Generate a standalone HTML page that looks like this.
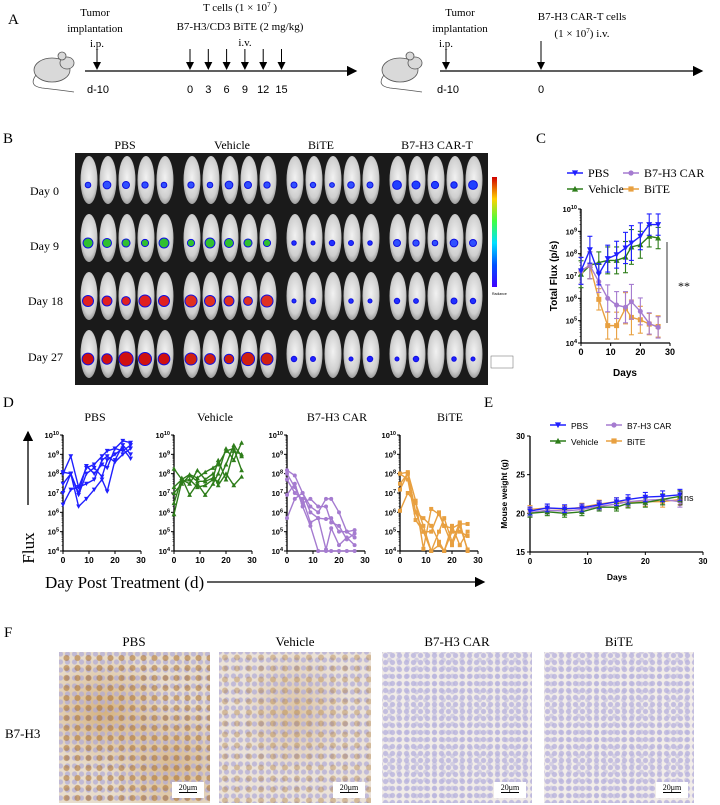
<!DOCTYPE html>
<html><head><meta charset="utf-8">
<style>
body{margin:0;background:#fff;}
svg{display:block;font-family:"Liberation Serif",serif;}
.ar{font-family:"Liberation Sans",sans-serif;font-weight:bold;}
.hist{position:absolute;}
</style></head>
<body>
<div style="position:relative;width:720px;height:805px;overflow:hidden">
<svg id="fig" width="720" height="805" viewBox="0 0 720 805">
<defs>
<marker id="ah" markerWidth="8" markerHeight="8" refX="7" refY="4" orient="auto"><path d="M0,0 L8,4 L0,8 z" fill="#000"/></marker>
<radialGradient id="mg" cx="50%" cy="45%" r="60%"><stop offset="0" stop-color="#f2f2f2"/><stop offset="0.7" stop-color="#cfcfcf"/><stop offset="1" stop-color="#8a8a8a"/></radialGradient>
</defs>
<!-- Panel A -->
<g>
<text x="8" y="24" font-size="15">A</text>
<g fill="#d9d9d9" stroke="#555" stroke-width="0.8">
<ellipse cx="52" cy="70" rx="18" ry="12"/><ellipse cx="67" cy="63" rx="7" ry="6"/><circle cx="62" cy="56" r="4"/>
<path d="M36,75 Q28,86 42,88 Q60,90 74,92" fill="none"/></g>
<g fill="#d9d9d9" stroke="#555" stroke-width="0.8">
<ellipse cx="400" cy="70" rx="18" ry="12"/><ellipse cx="415" cy="63" rx="7" ry="6"/><circle cx="410" cy="56" r="4"/>
<path d="M384,75 Q376,86 390,88 Q408,90 422,92" fill="none"/></g>
<line x1="85" y1="71" x2="356" y2="71" stroke="#000" stroke-width="1.3" marker-end="url(#ah)"/>
<text x="95" y="16" font-size="11" text-anchor="middle">Tumor</text>
<text x="95" y="32" font-size="11" text-anchor="middle">implantation</text>
<text x="97" y="47" font-size="11" text-anchor="middle">i.p.</text>
<line x1="97" y1="49" x2="97" y2="69" stroke="#000" marker-end="url(#ah)"/>
<text x="98" y="93" font-size="11" text-anchor="middle" font-family="Liberation Sans">d-10</text>
<text x="240" y="11" font-size="11" text-anchor="middle">T cells (1 × 10<tspan dy="-4" font-size="7">7</tspan><tspan dy="4"> )</tspan></text>
<text x="240" y="30" font-size="11" text-anchor="middle">B7-H3/CD3 BiTE (2 mg/kg)</text>
<text x="245" y="46" font-size="11" text-anchor="middle">i.v.</text>
<g id="dosearrows"></g>
<line x1="440" y1="71" x2="702" y2="71" stroke="#000" stroke-width="1.3" marker-end="url(#ah)"/>
<text x="460" y="16" font-size="11" text-anchor="middle">Tumor</text>
<text x="460" y="32" font-size="11" text-anchor="middle">implantation</text>
<text x="446" y="47" font-size="11" text-anchor="middle">i.p.</text>
<line x1="446" y1="49" x2="446" y2="69" stroke="#000" marker-end="url(#ah)"/>
<text x="448" y="93" font-size="11" text-anchor="middle" font-family="Liberation Sans">d-10</text>
<text x="582" y="20" font-size="11" text-anchor="middle">B7-H3 CAR-T cells</text>
<text x="582" y="37" font-size="11" text-anchor="middle">(1 × 10<tspan dy="-4" font-size="7">7</tspan><tspan dy="4">) i.v.</tspan></text>
<line x1="541" y1="41" x2="541" y2="69" stroke="#000" marker-end="url(#ah)"/>
<text x="541" y="93" font-size="11" text-anchor="middle" font-family="Liberation Sans">0</text>
</g>
<!-- Panel B -->
<g>
<text x="3" y="143" font-size="15">B</text>
<text x="125" y="149" font-size="12" text-anchor="middle">PBS</text>
<text x="232" y="149" font-size="12" text-anchor="middle">Vehicle</text>
<text x="321" y="149" font-size="12" text-anchor="middle">BiTE</text>
<text x="437" y="149" font-size="12" text-anchor="middle">B7-H3 CAR-T</text>
<rect x="75" y="153" width="413" height="232" fill="#1a1a1a"/>
<g id="mice"></g>
<text x="30" y="195" font-size="12">Day 0</text>
<text x="30" y="250" font-size="12">Day 9</text>
<text x="28" y="305" font-size="12">Day 18</text>
<text x="28" y="361" font-size="12">Day 27</text>
<defs><linearGradient id="cb" x1="0" y1="1" x2="0" y2="0">
<stop offset="0" stop-color="#4000ff"/><stop offset="0.2" stop-color="#0050ff"/><stop offset="0.4" stop-color="#00e0ff"/><stop offset="0.6" stop-color="#40ff40"/><stop offset="0.8" stop-color="#ffd000"/><stop offset="1" stop-color="#d00000"/></linearGradient></defs>
<rect x="492" y="177" width="5" height="110" fill="url(#cb)"/>
<text x="492" y="295" font-size="3.5" font-family="Liberation Sans">Radiance</text>
<rect x="491" y="356" width="22" height="12" fill="none" stroke="#666" stroke-width="0.5"/>
</g>
<!-- Panel C -->
<g id="panelC">
<text x="536" y="143" font-size="15">C</text>
</g>
<!-- Panel D -->
<g id="panelD">
<text x="3" y="407" font-size="15">D</text>
<line x1="28" y1="505" x2="28" y2="432" stroke="#000" stroke-width="1.3" marker-end="url(#ah)"/>
<text transform="translate(34,548) rotate(-90)" font-size="17" text-anchor="middle">Flux</text>
<text x="45" y="588" font-size="17">Day Post Treatment (d)</text>
<line x1="207" y1="582" x2="484" y2="582" stroke="#000" stroke-width="1.3" marker-end="url(#ah)"/>
</g>
<!-- Panel E -->
<g id="panelE">
<text x="484" y="407" font-size="15">E</text>
</g>
<!-- Panel F -->
<g>
<text x="4" y="637" font-size="15">F</text>
<text x="134" y="646" font-size="13" text-anchor="middle">PBS</text>
<text x="295" y="646" font-size="13" text-anchor="middle">Vehicle</text>
<text x="457" y="646" font-size="13" text-anchor="middle">B7-H3 CAR</text>
<text x="619" y="646" font-size="13" text-anchor="middle">BiTE</text>
<text x="5" y="738" font-size="13">B7-H3</text>
</g>
</svg>
<div class="hist" style="left:59px;top:652px;width:151px;height:151px;background:radial-gradient(circle,rgba(170,110,40,.55) 0 2.6px,transparent 3.4px) 2px 1px/11px 10px,radial-gradient(circle,rgba(175,170,215,.7) 0 2.2px,transparent 3px) 5px 6px/7px 8px,radial-gradient(ellipse at 30% 40%,rgba(200,150,80,.6),transparent 45%),radial-gradient(ellipse at 75% 75%,rgba(200,150,80,.5),transparent 40%),#e8dccb;"></div>
<div class="hist" style="left:219px;top:652px;width:152px;height:151px;background:radial-gradient(circle,rgba(175,125,60,.4) 0 2.5px,transparent 3.4px) 0 0/12px 11px,radial-gradient(circle,rgba(175,170,215,.7) 0 2.2px,transparent 3px) 4px 4px/7px 8px,radial-gradient(ellipse at 50% 40%,rgba(205,165,110,.5),transparent 50%),#ebe2d8;"></div>
<div class="hist" style="left:382px;top:652px;width:150px;height:151px;background:radial-gradient(circle,rgba(180,175,220,.75) 0 2.2px,transparent 3px) 0 0/7px 7px,radial-gradient(circle,rgba(180,175,220,.5) 0 2px,transparent 2.8px) 3px 4px/9px 8px,#f1ece8;"></div>
<div class="hist" style="left:544px;top:652px;width:150px;height:151px;background:radial-gradient(circle,rgba(180,175,220,.75) 0 2.2px,transparent 3px) 0 0/7px 7px,radial-gradient(circle,rgba(180,175,220,.5) 0 2px,transparent 2.8px) 3px 4px/9px 8px,#f2ede9;"></div>
<div id="scalebars"></div>
</div>
<script>
var NS="http://www.w3.org/2000/svg";
function mk(parent,tag,attrs,txt){var e=document.createElementNS(NS,tag);for(var k in attrs)e.setAttribute(k,attrs[k]);if(txt!==undefined)e.textContent=txt;parent.appendChild(e);return e;}
var doseDays=[0,3,6,9,12,15];
var da=document.getElementById('dosearrows');
doseDays.forEach(function(d){var x=190+d*6.1;
 var a=mk(da,'line',{x1:x,y1:49,x2:x,y2:69,stroke:'#000','marker-end':'url(#ah)'});
 
 
 mk(da,'text',{x:x,y:93,'font-size':11,'text-anchor':'middle','font-family':'Liberation Sans'},String(d));});
var mice=document.getElementById('mice');
var spotColors=[["#3050ff","#3050ff","#3050ff","#2040ff"],["#30c030","#30c030","#2030ff","#3050ff"],["#e02020","#e03020","#2030ff","#2030ff"],["#d01010","#d02010","#2020ff","#2020ff"]];
var spotSize=[[3.5,3.5,3,4],[4.5,4.5,2.5,3.5],[5.5,5.5,2.5,3],[6.5,6,2.5,2.5]];
for(var r=0;r<4;r++){for(var g=0;g<4;g++){for(var m=0;m<5;m++){
 var cx=75+g*103+14+m*19, cy=153+r*58+29;
 mk(mice,'ellipse',{cx:cx,cy:cy-2,rx:8.5,ry:24,fill:'url(#mg)'});
 var s=spotSize[r][g]*(0.8+0.1*((m*7+r*3+g)%4));
 if(!(g>=2&&r>=2&&(m%3==2)))mk(mice,'circle',{cx:cx-1,cy:cy+3,r:s,fill:spotColors[r][g],stroke:'#1010e0','stroke-width':1});
}}}
var sb=document.getElementById('scalebars');
[[210],[371],[532],[694]].forEach(function(p){var d=document.createElement('div');
 
 
 d.style.cssText='position:absolute;left:'+(p[0]-38)+'px;top:782px;width:32px;height:16px;background:#fff;font:8px "Liberation Serif",serif;text-align:center;line-height:12px;';
 d.innerHTML='<span style="border-bottom:1px solid #000">20μm</span>';sb.appendChild(d);});

var days=[0,3,6,9,12,15,17,20,23,26];
var groups=["PBS","Vehicle","B7-H3 CAR","BiTE"];
var cPBS=[1.7e7,1.5e8,1.2e7,6e7,9e7,1.8e8,3e8,6e8,2e9,2e9];
var cVehicle=[1.2e7,3e7,4e7,5e7,5e7,7e7,2e8,2.5e8,6e8,5e8];
var cCAR=[1.7e7,3e7,5.5e6,1e6,5e5,4e5,7e5,2.6e5,7.5e4,5e4];
var cBiTE=[1.7e7,3e7,9e5,6e4,6e4,3.6e5,1.4e5,1.1e5,7e4,5.5e4];
var cErrFold=[4,4,3,4,4,5,6,4,3,3];
var logTicks=[4,5,6,7,8,9,10];
var linTicksX=[0,10,20,30];
var dPBS=[[1e8,8e8,2e7,2e8,3e8,8e8,1.5e9,2e9,5e9,4e9],[3e7,1e8,2e6,5e6,1.5e7,5e7,1.2e7,5e8,3e9,1e9],[1e7,1e8,8e6,1e8,2e8,7e7,5e8,1e9,2e9,6e8],[2.5e6,1.5e7,2e7,3e7,5e7,5e8,8e8,4e8,1e9,2e9],[1.2e8,1e8,1e7,2.5e8,1e8,3e8,2e8,2e9,1.5e9,3e9]];
var dVehicle=[[1.8e8,5e7,9e7,6e7,1.2e8,2e8,3e8,1.5e9,2e9,1.5e8],[2e7,5e7,3e7,1.5e8,5e7,1e8,2.5e7,1e8,2.5e7,7e7],[8e5,4e7,5e7,2e7,2.5e7,5e7,4e7,3e8,3e9,8e8],[3e6,6e7,8e6,3e7,8e6,3e7,1e8,2e9,5e8,4e9],[1e7,3e7,8e7,4e7,4e7,6e7,5e8,5e7,1.5e9,1e9]];
var dCAR=[[1.5e8,8e7,1e7,1e6,5e5,4.5e5,5e5,1e5,1e5,1.2e5],[8e6,3e7,2e6,2e5,1e4,1e4,1e4,1e4,1e4,1e4],[5e5,5e6,1e7,2e6,1e6,5e6,5e6,1e6,1e5,5e4],[5e7,1e7,5e6,3e5,5e5,1.2e4,1.5e5,2e4,5e4,2e4],[1e8,2e7,3e6,5e6,2e6,2e6,3e5,2e5,4e4,8e4]];
var dBiTE=[[1e8,1.2e8,4e6,1.3e4,1.5e6,8e5,2e5,1.5e5,2.5e5,2.5e5],[1.5e7,1e8,1e6,1e5,1e4,1e5,5e5,3e4,3e5,1e4],[1.2e6,1e7,3e6,2e5,1e4,2e4,1e4,1e5,1e5,6e4],[1e8,5e7,4e5,1e5,1e5,1e6,2e5,2e4,2e5,1.2e4],[3e7,1e8,1e6,5e5,2e5,3e4,1e4,2e5,2e4,1e5]];
var wPBS=[20.3,20.7,20.6,20.7,21.1,21.5,21.8,22.1,22.2,22.4];
var wVehicle=[20.0,20.2,20.0,20.2,20.8,20.8,21.3,21.4,21.8,22.2];
var wCAR=[20.1,20.4,20.3,20.5,20.9,21.2,21.5,21.7,21.8,21.5];
var wBiTE=[20.5,20.7,20.5,20.8,21.2,21.5,21.4,21.5,21.5,21.8];
var wErr=[0.5,0.5,0.5,0.5,0.5,0.5,0.6,0.6,0.7,0.7];
var wTicks=[15,20,25,30];

var colors=["#1f1fff","#2e7d1a","#a57bd0","#e8a040"];
var shapes=["tdown","tup","circle","square"];
function marker(p,shape,x,y,s,col){
 var e;
 if(shape=="circle")e=mk(p,'circle',{cx:x,cy:y,r:s,fill:col});
 else if(shape=="square")e=mk(p,'rect',{x:x-s,y:y-s,width:2*s,height:2*s,fill:col});
 else if(shape=="tup")e=mk(p,'path',{d:'M'+x+','+(y-s*1.2)+' L'+(x+s*1.2)+','+(y+s)+' L'+(x-s*1.2)+','+(y+s)+'z',fill:col});
 else e=mk(p,'path',{d:'M'+x+','+(y+s*1.2)+' L'+(x+s*1.2)+','+(y-s)+' L'+(x-s*1.2)+','+(y-s)+'z',fill:col});
 return e;}
function logLabel(p,x,y,exp){var t=mk(p,'text',{x:x,y:y,'font-size':7.5,'text-anchor':'end','class':'ar'});
 mk(t,'tspan',{},'10');mk(t,'tspan',{dy:-3,'font-size':5.5},String(exp));return t;}
function axesLog(p,x0,x1,y0,y1,fs){
 var ax=mk(p,'path',{d:'M'+x0+','+y1+' L'+x0+','+y0+' L'+x1+','+y0,fill:'none',stroke:'#000','stroke-width':1.3});
 
 
 var ly=function(v){return y0-(Math.log10(v)-4)*(y0-y1)/6;};
 var lx=function(d){return x0+d*(x1-x0)/30;};
 logTicks.forEach(function(e){var y=ly(Math.pow(10,e));mk(p,'line',{x1:x0-3,y1:y,x2:x0,y2:y,stroke:'#000'});
  for(var k=2;k<10&&e<10;k++){var yy=ly(k*Math.pow(10,e));mk(p,'line',{x1:x0-1.5,y1:yy,x2:x0,y2:yy,stroke:'#000','stroke-width':0.5});}
  var lab=logLabel(p,x0-4,y+3,e);
  
  });
 linTicksX.forEach(function(d){var x=lx(d);mk(p,'line',{x1:x,y1:y0,x2:x,y2:y0+3,stroke:'#000'});
  var t=mk(p,'text',{x:x,y:y0+12,'font-size':fs,'text-anchor':'middle','class':'ar'},String(d));
  
  });
 return {x:lx,y:ly};}
function series(p,sc,vals,ci,sz,errs,name){
 var g=mk(p,'g',{});
 
 
 var pts=vals.map(function(v,i){return sc.x(days[i])+','+sc.y(v);}).join(' ');
 if(errs){vals.forEach(function(v,i){var x=sc.x(days[i]);var a=errs(v,i);
  mk(g,'line',{x1:x,y1:sc.y(a[0]),x2:x,y2:sc.y(a[1]),stroke:colors[ci],'stroke-width':1.1});
  mk(g,'line',{x1:x-2.5,y1:sc.y(a[0]),x2:x+2.5,y2:sc.y(a[0]),stroke:colors[ci],'stroke-width':1.1});
  mk(g,'line',{x1:x-2.5,y1:sc.y(a[1]),x2:x+2.5,y2:sc.y(a[1]),stroke:colors[ci],'stroke-width':1.1});});}
 mk(g,'polyline',{points:pts,fill:'none',stroke:colors[ci],'stroke-width':1.4});
 vals.forEach(function(v,i){marker(g,shapes[ci],sc.x(days[i]),sc.y(v),sz,colors[ci]);});}
function legend(p,x,y,fs){
 var pos=[[x,y],[x,y+16],[x+56,y],[x+56,y+16]];
 groups.forEach(function(n,i){var g=mk(p,'g',{});
  
  
  mk(g,'line',{x1:pos[i][0]-8,y1:pos[i][1],x2:pos[i][0]+8,y2:pos[i][1],stroke:colors[i],'stroke-width':1.5});
  marker(g,shapes[i],pos[i][0],pos[i][1],2.6,colors[i]);
  mk(g,'text',{x:pos[i][0]+13,y:pos[i][1]+4,'font-size':fs,'font-family':'Liberation Sans'},n);});}

var pc=document.getElementById('panelC');
var scC=axesLog(pc,581,670,343,209,9);
var cErr=function(arr){return function(v,i){var f=cErrFold[i];return [Math.max(1e4,v/f),Math.min(1e10,v*f)];};};
series(pc,scC,cVehicle,1,2.5,cErr(cVehicle),'series-vehicle');
series(pc,scC,cBiTE,3,2.5,cErr(cBiTE),'series-bite');
series(pc,scC,cCAR,2,2.5,cErr(cCAR),'series-car');
series(pc,scC,cPBS,0,2.5,cErr(cPBS),'series-pbs');
var lg=mk(pc,'g',{});legend(lg,575,173,10.5);
lg.querySelectorAll('text').forEach(function(t){t.setAttribute('font-family','Liberation Serif');t.setAttribute('font-size','12');});
mk(pc,'text',{transform:'translate(557,276) rotate(-90)','font-size':10,'text-anchor':'middle','class':'ar'},'Total Flux (p/s)');
mk(pc,'text',{x:625,y:376,'font-size':10,'text-anchor':'middle','class':'ar'},'Days');
mk(pc,'line',{x1:667,y1:242,x2:667,y2:323,stroke:'#000','stroke-width':0.8});
mk(pc,'text',{x:678,y:290,'font-size':12},'**');

var pd=document.getElementById('panelD');
var dX0=[63,174,287,400];
var dData=[dPBS,dVehicle,dCAR,dBiTE];
var dTitleX=[95,215,337,450];
dData.forEach(function(dat,gi){
 var g=mk(pd,'g',{});
 
 
 mk(g,'text',{x:dTitleX[gi],y:421,'font-size':12,'text-anchor':'middle'},groups[gi]);
 var sc=axesLog(g,dX0[gi],dX0[gi]+78,551,435,8.5);
 dat.forEach(function(m,mi){series(g,sc,m,gi,2,null,'mouse-'+(mi+1));});});

var pe=document.getElementById('panelE');
var ex=function(d){return 530+d*173/30;};
var ey=function(w){return 552-(w-15)*116/15;};
var eAx=mk(pe,'path',{d:'M530,436 L530,552 L703,552',fill:'none',stroke:'#000','stroke-width':1.3});


wTicks.forEach(function(w){mk(pe,'line',{x1:527,y1:ey(w),x2:530,y2:ey(w),stroke:'#000'});
 var t=mk(pe,'text',{x:525,y:ey(w)+3,'font-size':8,'text-anchor':'end','class':'ar'},String(w));
 
 });
linTicksX.forEach(function(d){mk(pe,'line',{x1:ex(d),y1:552,x2:ex(d),y2:555,stroke:'#000'});
 var t=mk(pe,'text',{x:ex(d),y:564,'font-size':8,'text-anchor':'middle','class':'ar'},String(d));
 
 });
var scE={x:ex,y:ey};
var we=function(v,i){return [v-wErr[i],v+wErr[i]];};
series(pe,scE,wBiTE,3,2.3,we,'series-bite');
series(pe,scE,wCAR,2,2.3,we,'series-car');
series(pe,scE,wVehicle,1,2.3,we,'series-vehicle');
series(pe,scE,wPBS,0,2.3,we,'series-pbs');
legend(mk(pe,'g',{}),558,425,8.5);
mk(pe,'text',{transform:'translate(507,494) rotate(-90)','font-size':8.5,'text-anchor':'middle','class':'ar'},'Mouse weight (g)');
mk(pe,'text',{x:617,y:580,'font-size':8.5,'text-anchor':'middle','class':'ar'},'Days');
mk(pe,'path',{d:'M678,491 L682,491 L682,505 L678,505',fill:'none',stroke:'#000','stroke-width':0.7});
mk(pe,'text',{x:684,y:501,'font-size':9,'font-family':'Liberation Sans'},'ns');
</script>
</body></html>
